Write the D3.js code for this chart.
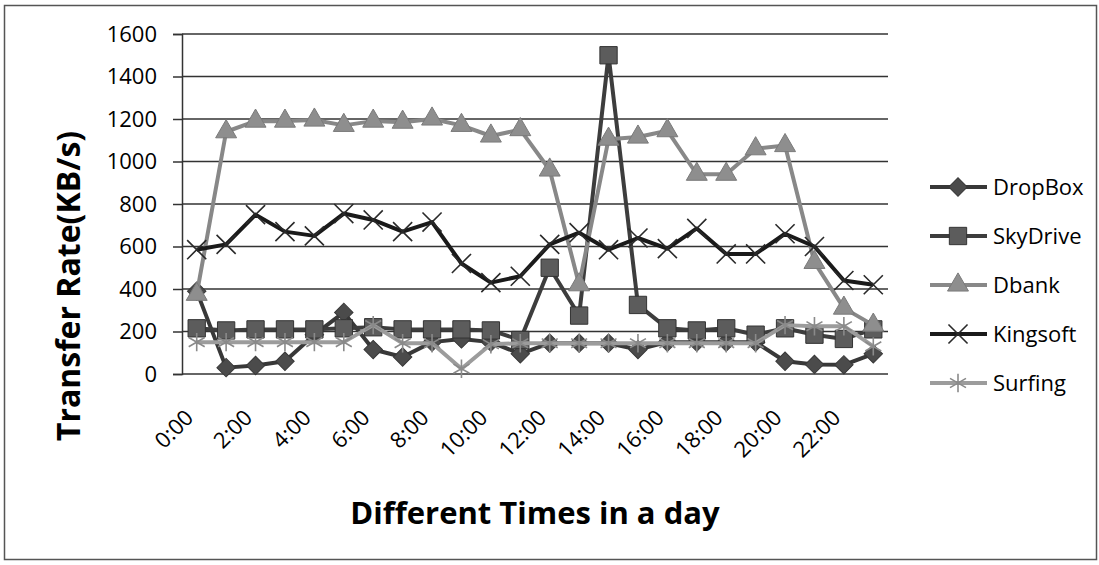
<!DOCTYPE html>
<html>
<head>
<meta charset="utf-8">
<script src="https://cdn.jsdelivr.net/npm/d3@7"></script>
<style>
  body { margin: 0; background: #fff; }
  text { font-family: "Open Sans", "Liberation Sans", sans-serif; fill: #000; }
</style>
</head>
<body>
<svg id="chart"></svg>
<script>
// hours of the day, one value per hour
const hours = d3.range(24).map(h => h + ":00");
const yTicks = [0, 200, 400, 600, 800, 1000, 1200, 1400, 1600];

const dropbox  = [390, 30, 40, 60, 185, 290, 115, 80, 150, 165, 150, 95, 145, 145, 145, 115, 150, 150, 150, 150, 60, 45, 43, 95];
const skydrive = [215, 205, 210, 210, 210, 215, 220, 210, 210, 210, 205, 160, 500, 275, 1500, 325, 215, 205, 215, 185, 215, 185, 165, 210];
const dbank    = [375, 1140, 1190, 1190, 1195, 1170, 1190, 1185, 1200, 1170, 1120, 1150, 960, 420, 1105, 1115, 1145, 940, 940, 1060, 1075, 525, 310, 230];
const kingsoft = [585, 610, 750, 670, 650, 755, 725, 670, 715, 520, 430, 460, 610, 665, 585, 640, 590, 685, 565, 565, 660, 600, 440, 420];
const surfing  = [150, 150, 150, 150, 150, 150, 230, 145, 145, 25, 140, 145, 145, 145, 145, 145, 145, 145, 145, 145, 230, 225, 225, 130];

const series = [
  { name: "DropBox",  values: dropbox,  line: "#383838", fill: "#4b4b4b", stroke: "#383838", type: "diamond" },
  { name: "SkyDrive", values: skydrive, line: "#3d3d3d", fill: "#5c5c5c", stroke: "#333",    type: "square" },
  { name: "Dbank",    values: dbank,    line: "#888",    fill: "#8e8e8e", stroke: "#7a7a7a", type: "triangle" },
  { name: "Kingsoft", values: kingsoft, line: "#1a1a1a", fill: "none",    stroke: "#2a2a2a", type: "times" },
  { name: "Surfing",  values: surfing,  line: "#9c9c9c", fill: "none",    stroke: "#8a8a8a", type: "asterisk" }
];

const W = 1099, H = 565;
const plot = { left: 182, right: 888, top: 34, bottom: 374 };

const svg = d3.select("#chart").attr("width", W).attr("height", H);

svg.append("rect")
  .attr("x", 4.5).attr("y", 5.5).attr("width", 1092).attr("height", 554)
  .attr("fill", "#fff").attr("stroke", "#555").attr("stroke-width", 1.5);

const x = d3.scaleBand().domain(hours).range([plot.left, plot.right]);
const y = d3.scaleLinear().domain([0, 1600]).range([plot.bottom, plot.top]);

// y axis with gridlines
const yAxis = svg.append("g")
  .attr("transform", `translate(${plot.left},0)`)
  .call(d3.axisLeft(y).tickValues(yTicks).tickSize(9).tickPadding(16).tickFormat(d3.format("d")));
yAxis.select(".domain").attr("stroke", "#333").attr("stroke-width", 1.5);
yAxis.selectAll(".tick line").attr("stroke", "#333").attr("stroke-width", 1.5);
yAxis.selectAll(".tick text").style("font-size", "22px").attr("fill", "#000");

svg.append("g").selectAll("line")
  .data(yTicks)
  .join("line")
  .attr("x1", plot.left).attr("x2", plot.right)
  .attr("y1", d => y(d)).attr("y2", d => y(d))
  .attr("stroke", "#333").attr("stroke-width", 1.5);

// x axis labels every 2 hours
const xAxis = svg.append("g")
  .attr("transform", `translate(0,${plot.bottom})`)
  .call(d3.axisBottom(x).tickValues(hours.filter((h, i) => i % 2 === 0)).tickSize(0));
xAxis.select(".domain").remove();
xAxis.selectAll(".tick text")
  .style("font-size", "22px")
  .attr("fill", "#000")
  .attr("text-anchor", "end")
  .attr("transform", "translate(-2,45) rotate(-45)")
  .attr("y", 0).attr("dy", 0);

const cx = i => x(hours[i]) + x.bandwidth() / 2;

const symbolFor = t => {
  if (t === "diamond") return d3.symbol(d3.symbolSquare, 170);
  if (t === "square") return d3.symbol(d3.symbolSquare, 300);
  if (t === "triangle") return d3.symbol(d3.symbolTriangle, 190);
  if (t === "times") return d3.symbol(d3.symbolTimes, 240);
  return d3.symbol(d3.symbolAsterisk, 240);
};

const line = d3.line().x((d, i) => cx(i)).y(d => y(d));

series.forEach(s => {
  const g = svg.append("g");
  g.append("path")
    .attr("d", line(s.values))
    .attr("fill", "none")
    .attr("stroke", s.line)
    .attr("stroke-width", 4)
    .attr("stroke-linejoin", "round");
  const sym = symbolFor(s.type);
  g.selectAll("path.mark")
    .data(s.values)
    .join("path")
    .attr("class", "mark")
    .attr("d", sym)
    .attr("transform", (d, i) => `translate(${cx(i)},${y(d)})` + (s.type === "diamond" ? " rotate(45)" : ""))
    .attr("fill", s.fill)
    .attr("stroke", s.stroke)
    .attr("stroke-width", s.fill === "none" ? 1.6 : 1);
});

// legend
const legend = svg.append("g");
series.forEach((s, i) => {
  const ly = 187 + i * 49;
  legend.append("line")
    .attr("x1", 930).attr("x2", 987).attr("y1", ly).attr("y2", ly)
    .attr("stroke", s.line).attr("stroke-width", 4);
  legend.append("path")
    .attr("d", symbolFor(s.type))
    .attr("transform", `translate(958,${ly})` + (s.type === "diamond" ? " rotate(45)" : ""))
    .attr("fill", s.fill)
    .attr("stroke", s.stroke)
    .attr("stroke-width", s.fill === "none" ? 1.6 : 1);
  legend.append("text")
    .attr("x", 993).attr("y", ly).attr("dy", "0.35em")
    .style("font-size", "22px")
    .text(s.name);
});

// axis titles
svg.append("text")
  .attr("x", (plot.left + plot.right) / 2).attr("y", 524)
  .attr("text-anchor", "middle")
  .style("font-size", "31px").style("font-weight", "bold")
  .text("Different Times in a day");

svg.append("text")
  .attr("transform", "translate(80,286) rotate(-90)")
  .attr("text-anchor", "middle")
  .style("font-size", "32px").style("font-weight", "bold")
  .text("Transfer Rate(KB/s)");
</script>
</body>
</html>
